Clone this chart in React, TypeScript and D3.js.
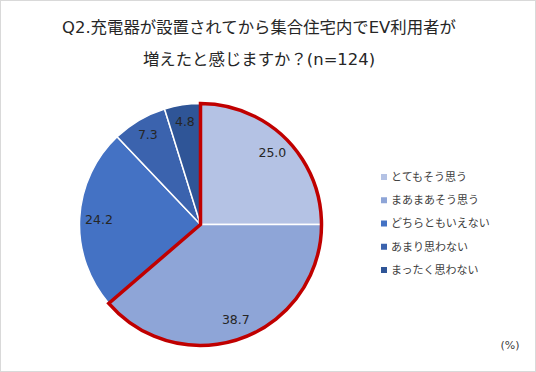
import React from "react";
import * as d3 from "d3";

const categories = ["とてもそう思う", "まあまあそう思う", "どちらともいえない", "あまり思わない", "まったく思わない"];
const values = [25.0, 38.7, 24.2, 7.3, 4.8];
const colors = ["#b4c2e4", "#8ea5d7", "#4472c4", "#3b63ae", "#2f5597"];
const titleLines = ["Q2.充電器が設置されてから集合住宅内でEV利用者が", "増えたと感じますか？(n=124)"];
const highlighted = [0, 1];

const W = 536, H = 372;
const cx = 200.5, cy = 224.5, R = 121;
const font = "'DejaVu Sans', 'Noto Sans CJK JP', sans-serif";

export default function App() {
  const pie = d3.pie<number>().sort(null).value(d => d)(values);
  const arc = d3.arc<d3.PieArcDatum<number>>().innerRadius(0).outerRadius(R);
  const labelArc = d3.arc<d3.PieArcDatum<number>>().innerRadius(R * 0.84).outerRadius(R * 0.84);
  const smallArc = d3.arc<d3.PieArcDatum<number>>().innerRadius(R * 0.86).outerRadius(R * 0.86);
  const hl = pie.filter((_, i) => highlighted.includes(i));
  const hlArc = d3.arc()({
    innerRadius: 0, outerRadius: R,
    startAngle: d3.min(hl, d => d.startAngle)!, endAngle: d3.max(hl, d => d.endAngle)!,
  } as any) as string;
  const legendY = d3.scalePoint<number>().domain(d3.range(categories.length)).range([177, 270]);

  return (
    <svg width={W} height={H} style={{ position: "absolute", left: 0, top: 0, fontFamily: font }}>
      <rect x={0.5} y={0.5} width={W - 1} height={H - 1} fill="#fff" stroke="#d9d9d9" />
      {titleLines.map((t, i) => (
        <text key={i} x={259} y={33 + i * 32} textAnchor="middle" fontSize={16.4} fill="#262626">{t}</text>
      ))}
      <g transform={`translate(${cx},${cy})`}>
        {pie.map((d, i) => (
          <path key={i} d={arc(d)!} fill={colors[i]} stroke="#fff" strokeWidth={1.5} />
        ))}
        <path d={hlArc} fill="none" stroke="#c00000" strokeWidth={3.5} strokeLinejoin="miter" />
        {pie.map((d, i) => {
          const [x, y] = (values[i] < 10 ? smallArc : labelArc).centroid(d);
          return (
            <text key={i} x={x} y={y} dy="0.35em" textAnchor="middle" fontSize={12.5} fill="#262626">
              {values[i].toFixed(1)}
            </text>
          );
        })}
      </g>
      {categories.map((c, i) => (
        <g key={i} transform={`translate(381,${legendY(i)})`}>
          <rect x={0} y={-3} width={6} height={6} fill={colors[i]} />
          <text x={10} y={0} dy="0.35em" fontSize={11} fill="#404040">{c}</text>
        </g>
      ))}
      <text x={510} y={349} textAnchor="middle" fontSize={11} fill="#404040">(%)</text>
    </svg>
  );
}
